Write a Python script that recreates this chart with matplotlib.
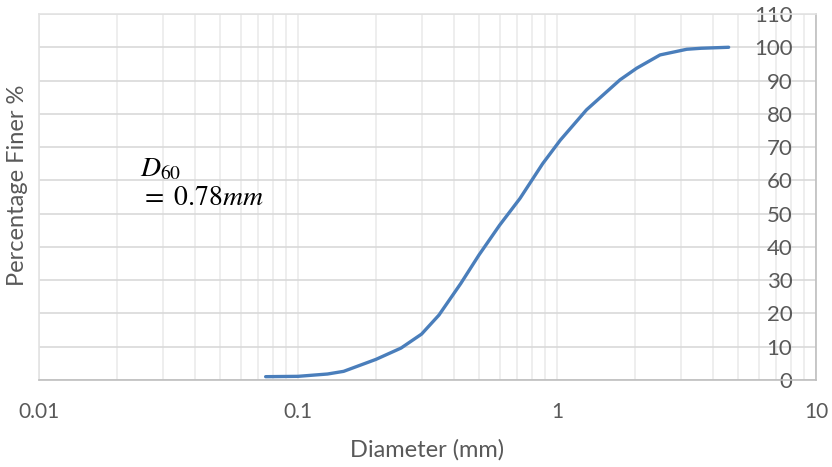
import matplotlib
matplotlib.use("Agg")
import matplotlib.pyplot as plt
from matplotlib.ticker import LogLocator, FixedLocator, NullFormatter

plt.rcParams["font.family"] = ["Lato", "DejaVu Sans"]
plt.rcParams["mathtext.fontset"] = "stix"

# grain size curve
diameter_mm = [0.075, 0.1, 0.13, 0.15, 0.2, 0.25, 0.3, 0.35, 0.425, 0.5, 0.6,
               0.72, 0.88, 1.03, 1.3, 1.75, 2.03, 2.5, 3.17, 3.6, 4.6]
percent_finer = [1.0, 1.1, 1.8, 2.6, 6.2, 9.6, 13.8, 19.5, 29.0, 37.6, 46.5,
                 54.6, 65.0, 72.1, 81.2, 90.2, 93.7, 97.7, 99.4, 99.7, 100.0]

x_ticks = [0.01, 0.1, 1, 10]
x_labels = ["0.01", "0.1", "1", "10"]
y_ticks = list(range(0, 111, 10))

grey = "#595959"

fig = plt.figure(figsize=(8.32, 4.67), dpi=100)
ax = fig.add_axes([39 / 832, 1 - 380 / 467, (816 - 39) / 832, (380 - 14) / 467])

ax.set_xscale("log")
ax.set_xlim(0.01, 10)
ax.set_ylim(0, 110)

ax.xaxis.set_major_locator(FixedLocator(x_ticks))
ax.set_xticklabels(x_labels)
ax.xaxis.set_minor_locator(LogLocator(base=10, subs=range(2, 10)))
ax.xaxis.set_minor_formatter(NullFormatter())
ax.set_yticks(y_ticks)

ax.grid(True, which="major", axis="y", color="#d9d9d9", linewidth=1.2)
ax.grid(True, which="both", axis="x", color="#ebebeb", linewidth=1.2)
ax.set_axisbelow(True)

for s in ["top", "left"]:
    ax.spines[s].set_color("#e3e3e3")
    ax.spines[s].set_linewidth(1.2)
for s in ["bottom", "right"]:
    ax.spines[s].set_color("#bfbfbf")
    ax.spines[s].set_linewidth(1.2)

ax.yaxis.tick_right()
ax.tick_params(axis="y", length=0, pad=-17, labelsize=16, colors=grey)
for lab in ax.get_yticklabels():
    lab.set_horizontalalignment("right")
ax.tick_params(axis="x", which="both", length=0, pad=16, labelsize=15, colors=grey)

ax.plot(diameter_mm, percent_finer, color="#4a7ebb", linewidth=2.4,
        solid_capstyle="round", zorder=3)

fig.text(140 / 832, 1 - 176 / 467, r"$D_{60}$", fontsize=20, color="black")
fig.text(140 / 832, 1 - 205 / 467, r"$=\ 0.78mm$", fontsize=20, color="black")

fig.text(18 / 832, 1 - 185 / 467, "Percentage Finer %", rotation=90,
         ha="center", va="center", fontsize=17, color=grey)
fig.text(427 / 832, 1 - 450 / 467, "Diameter (mm)", ha="center", va="center",
         fontsize=17, color=grey)

fig.savefig("out.png", dpi=100)
